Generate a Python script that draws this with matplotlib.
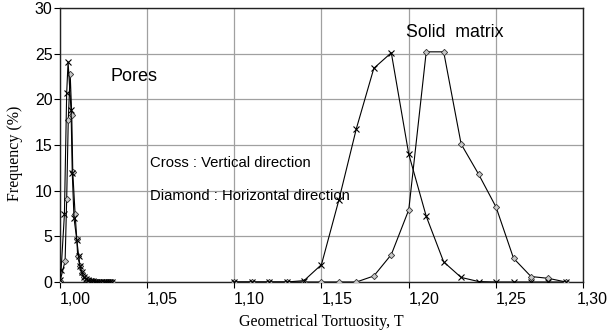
import matplotlib
matplotlib.use("Agg")
import matplotlib.pyplot as plt
import matplotlib.transforms as mtransforms

# pores, vertical direction (crosses)
pore_T_v = [1.0003, 1.0009, 1.0028, 1.0041, 1.0049, 1.0066, 1.0073, 1.0083, 1.0099, 1.0110,
            1.0118, 1.0127, 1.0140, 1.0152, 1.0165, 1.0178, 1.0190, 1.0203, 1.0215, 1.0228,
            1.0240, 1.0253, 1.0265, 1.0278, 1.0290, 1.0300]
pore_F_v = [0.2, 1.3, 7.4, 20.7, 24.1, 18.8, 11.9, 7.0, 4.6, 2.8,
            1.7, 1.1, 0.5, 0.3, 0.2, 0.1, 0.1, 0.05, 0.05, 0.0,
            0.0, 0.0, 0.0, 0.0, 0.0, 0.0]
# pores, horizontal direction (diamonds)
pore_T_h = [1.0003, 1.0032, 1.0041, 1.0050, 1.0061, 1.0070, 1.0076, 1.0089, 1.0099, 1.0104,
            1.0118, 1.0127, 1.0140, 1.0152, 1.0165, 1.0178, 1.0190, 1.0203, 1.0215, 1.0228,
            1.0240, 1.0253, 1.0265, 1.0278, 1.0290, 1.0300]
pore_F_h = [0.1, 2.3, 9.1, 17.7, 22.8, 18.3, 12.0, 7.5, 4.7, 2.8,
            1.7, 1.0, 0.5, 0.3, 0.2, 0.1, 0.1, 0.05, 0.05, 0.0,
            0.0, 0.0, 0.0, 0.0, 0.0, 0.0]

# solid matrix
solid_T = [1.10, 1.11, 1.12, 1.13, 1.14, 1.15, 1.16, 1.17, 1.18, 1.19,
           1.20, 1.21, 1.22, 1.23, 1.24, 1.25, 1.26, 1.27, 1.28, 1.29]
solid_F_v = [0.0, 0.0, 0.0, 0.0, 0.15, 1.9, 9.0, 16.8, 23.4, 25.1,
             14.0, 7.2, 2.2, 0.5, 0.05, 0.0, 0.0, 0.0, 0.0, 0.0]
solid_F_h = [0.0, 0.0, 0.0, 0.0, 0.0, 0.0, 0.0, 0.0, 0.66, 3.0,
             7.9, 25.2, 25.2, 15.1, 11.8, 8.2, 2.6, 0.6, 0.4, 0.0]

xticks = [1.00, 1.05, 1.10, 1.15, 1.20, 1.25, 1.30]
xlabels = ["1,00", "1,05", "1,10", "1,15", "1,20", "1,25", "1,30"]
yticks = [0, 5, 10, 15, 20, 25, 30]

sans = "Liberation Sans"
serif = "Liberation Serif"

fig = plt.figure(figsize=(6.08, 3.36), dpi=100)
ax = fig.add_axes([0.0979, 0.1607, 0.8616, 0.8155])

def cross_line(T, F):
    ax.plot(T, F, color="black", lw=0.8, marker="x", ms=4, mew=0.8, zorder=3)

def diamond_line(T, F):
    ax.plot(T, F, color="black", lw=0.8, marker="D", ms=3.2, mew=0.6,
            mfc="#c8c8c8", mec="#333333", zorder=3)

diamond_line(pore_T_h, pore_F_h)
cross_line(pore_T_v, pore_F_v)
diamond_line(solid_T, solid_F_h)
cross_line(solid_T, solid_F_v)

ax.set_xlim(1.00, 1.30)
ax.set_ylim(0, 30)
ax.tick_params(axis="x", direction="out", length=4, width=0.8, pad=3)
ax.tick_params(axis="y", direction="out", length=4, width=0.8, pad=1)
ax.set_xticks(xticks)
ax.set_xticklabels(xlabels, fontfamily=sans, fontsize=11.5)
ax.set_yticks(yticks)
ax.set_yticklabels([str(v) for v in yticks], fontfamily=sans, fontsize=11.5)

ax.grid(True, color="#a0a0a0", lw=0.9)
ax.set_axisbelow(True)
for s in ax.spines.values():
    s.set_color("#222222")
    s.set_linewidth(1.0)

ax.set_xlabel("Geometrical Tortuosity, T", fontfamily=serif, fontsize=11.5)
ax.set_ylabel("Frequency (%)", fontfamily=serif, fontsize=11.5)
ax.xaxis.set_label_coords(0.5, -0.115)
ax.yaxis.set_label_coords(-0.07, 0.47)

ax.text(1.0426, 22.45, "Pores", fontfamily=sans, fontsize=13, ha="center", va="center")
ax.text(1.2262, 27.3, "Solid  matrix", fontfamily=sans, fontsize=12.8, ha="center", va="center")
ax.text(1.052, 13.0, "Cross : Vertical direction", fontfamily=sans, fontsize=10.7, va="center")
ax.text(1.052, 9.4, "Diamond : Horizontal direction", fontfamily=sans, fontsize=10.7, va="center")

# x labels sit to the right of their ticks; the last one is pulled back inside
labs = ax.get_xticklabels()
for lab in labs:
    lab.set_horizontalalignment("left")
labs[-1].set_transform(labs[-1].get_transform() +
                       mtransforms.ScaledTranslation(-0.065, 0, fig.dpi_scale_trans))

fig.savefig("out.png", dpi=100)
